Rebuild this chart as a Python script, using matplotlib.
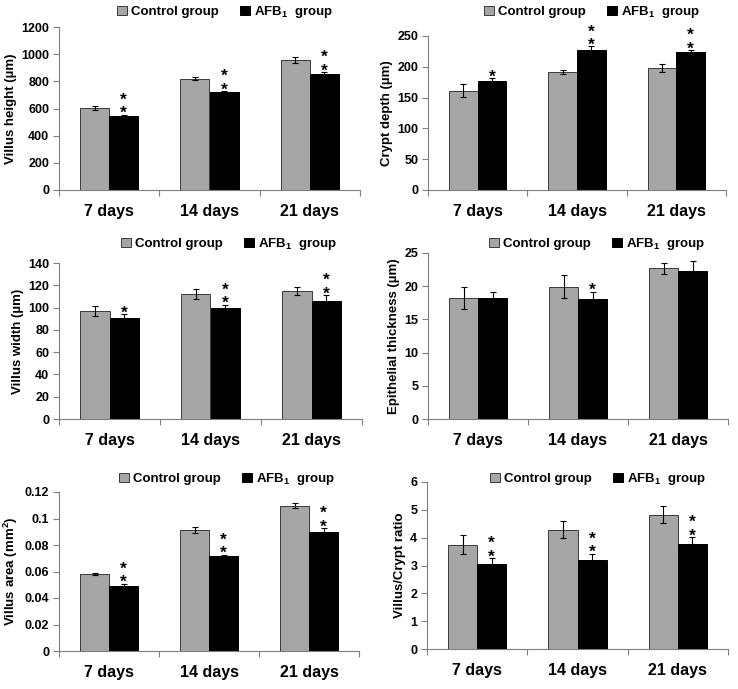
import numpy as np
import matplotlib
matplotlib.use('Agg')
import matplotlib.pyplot as plt
from matplotlib.ticker import FuncFormatter, MultipleLocator

plt.rcParams['font.family'] = ['Liberation Sans', 'DejaVu Sans']
plt.rcParams['font.weight'] = 'bold'
plt.rcParams['mathtext.fontset'] = 'custom'
plt.rcParams['mathtext.rm'] = 'Liberation Sans:bold'
plt.rcParams['mathtext.bf'] = 'Liberation Sans:bold'

# data
days = ['7 days', '14 days', '21 days']
groups = ['Control group', r'AFB$_{\mathbf{1}}$  group']

villus_height_ctrl = [605, 819, 957]
villus_height_ctrl_err = [17, 10, 21]
villus_height_afb = [543, 723, 851]
villus_height_afb_err = [11, 5, 15]
villus_height_stars = [2, 2, 2]

crypt_depth_ctrl = [161, 192, 198]
crypt_depth_ctrl_err = [10.5, 3, 7]
crypt_depth_afb = [177, 227, 224]
crypt_depth_afb_err = [5, 6, 3]
crypt_depth_stars = [1, 2, 2]

villus_width_ctrl = [97, 112, 115]
villus_width_ctrl_err = [4.8, 4.3, 3.7]
villus_width_afb = [91, 100, 106]
villus_width_afb_err = [3, 2.7, 5]
villus_width_stars = [1, 2, 2]

epi_ctrl = [18.26, 19.92, 22.69]
epi_ctrl_err = [1.66, 1.7, 0.8]
epi_afb = [18.16, 18.06, 22.28]
epi_afb_err = [1.0, 1.1, 1.5]
epi_stars = [0, 1, 0]

area_ctrl = [0.0582, 0.0914, 0.1097]
area_ctrl_err = [0.001, 0.002, 0.002]
area_afb = [0.0492, 0.0718, 0.0896]
area_afb_err = [0.0015, 0.001, 0.003]
area_stars = [2, 2, 2]

ratio_ctrl = [3.75, 4.29, 4.83]
ratio_ctrl_err = [0.34, 0.31, 0.32]
ratio_afb = [3.05, 3.18, 3.79]
ratio_afb_err = [0.22, 0.25, 0.23]
ratio_stars = [2, 2, 2]

W, H = 738, 689
fig = plt.figure(figsize=(W / 100, H / 100), dpi=100)
fig.patch.set_facecolor('white')

# panel boxes in pixels: left, right, top, bottom, legend centre x, y
panels = [
    dict(box=(59, 360, 27, 190), leg=(225, 12), ylabel='Villus height (µm)', ymax=1200, step=200,
         c=villus_height_ctrl, ce=villus_height_ctrl_err, a=villus_height_afb, ae=villus_height_afb_err, s=villus_height_stars),
    dict(box=(428, 726, 36, 190), leg=(592, 12), ylabel='Crypt depth (µm)', ymax=250, step=50,
         c=crypt_depth_ctrl, ce=crypt_depth_ctrl_err, a=crypt_depth_afb, ae=crypt_depth_afb_err, s=crypt_depth_stars),
    dict(box=(59, 362, 263, 419), leg=(229, 244), ylabel='Villus width (µm)', ymax=140, step=20,
         c=villus_width_ctrl, ce=villus_width_ctrl_err, a=villus_width_afb, ae=villus_width_afb_err, s=villus_width_stars),
    dict(box=(428, 728, 253, 419), leg=(597, 244), ylabel='Epithelial thickness (µm)', ymax=25, step=5,
         c=epi_ctrl, ce=epi_ctrl_err, a=epi_afb, ae=epi_afb_err, s=epi_stars),
    dict(box=(59, 359, 492, 651), leg=(227, 479), ylabel='Villus area (mm$^{\\mathbf{2}}$)', ymax=0.12, step=0.02,
         c=area_ctrl, ce=area_ctrl_err, a=area_afb, ae=area_afb_err, s=area_stars),
    dict(box=(427, 728, 482, 649), leg=(598, 479), ylabel='Villus/Crypt ratio', ymax=6, step=1,
         c=ratio_ctrl, ce=ratio_ctrl_err, a=ratio_afb, ae=ratio_afb_err, s=ratio_stars),
]

x = np.arange(len(days))
bw = 0.29
gray = '#a6a6a6'
axcol = '#7f7f7f'

for p in panels:
    l, r, t, b = p['box']
    ax = fig.add_axes([l / W, 1 - b / H, (r - l) / W, (b - t) / H])
    eb = dict(ecolor='black', elinewidth=0.8, capsize=2.5, capthick=0.8)
    b1 = ax.bar(x - bw / 2, p['c'], bw, yerr=p['ce'], color=gray, edgecolor='#3a3a3a',
                linewidth=0.7, error_kw=eb, label=groups[0])
    b2 = ax.bar(x + bw / 2, p['a'], bw, yerr=p['ae'], color='black', edgecolor='black',
                linewidth=0.7, error_kw=eb, label=groups[1])

    # significance asterisks above the AFB1 bars (stacked in one text)
    for i in range(len(days)):
        if p['s'][i] == 0:
            continue
        top = p['a'][i] + p['ae'][i]
        ax.annotate('\n'.join(['*'] * p['s'][i]), xy=(x[i] + bw / 2, top), xytext=(0, -4.6),
                    textcoords='offset points', ha='center', va='bottom',
                    fontsize=12.5, fontweight='bold', linespacing=0.88,
                    annotation_clip=False)

    ax.set_xlim(-0.5, 2.5)
    ax.set_ylim(0, p['ymax'])
    ax.yaxis.set_major_locator(MultipleLocator(p['step']))
    ax.yaxis.set_major_formatter(FuncFormatter(lambda v, pos: '%g' % round(v, 6)))
    ax.set_xticks(x)
    ax.set_xticklabels(days, fontsize=11.5, fontweight='bold')
    ax.set_xticks([-0.5, 0.5, 1.5, 2.5], minor=True)
    ax.tick_params(axis='x', which='major', length=0, pad=10)
    ax.tick_params(axis='x', which='minor', length=4, width=0.8, color=axcol)
    ax.tick_params(axis='y', length=4, width=0.8, color=axcol, labelsize=9, pad=3)
    for lab in ax.get_yticklabels():
        lab.set_fontweight('bold')
    ax.set_ylabel(p['ylabel'], fontsize=9.5, fontweight='bold', labelpad=3)
    ax.spines['top'].set_visible(False)
    ax.spines['right'].set_visible(False)
    for sp in ['left', 'bottom']:
        ax.spines[sp].set_color(axcol)
        ax.spines[sp].set_linewidth(0.8)

    lx, ly = p['leg']
    ax.legend(handles=[b1, b2], ncol=2, loc='center', bbox_to_anchor=(lx / W, 1 - ly / H),
              bbox_transform=fig.transFigure, frameon=False,
              handlelength=0.75, handleheight=0.75, handletextpad=0.3, columnspacing=1.6,
              borderpad=0, prop=dict(weight='bold', size=9.5))

fig.savefig('out.png', dpi=100, facecolor='white')
